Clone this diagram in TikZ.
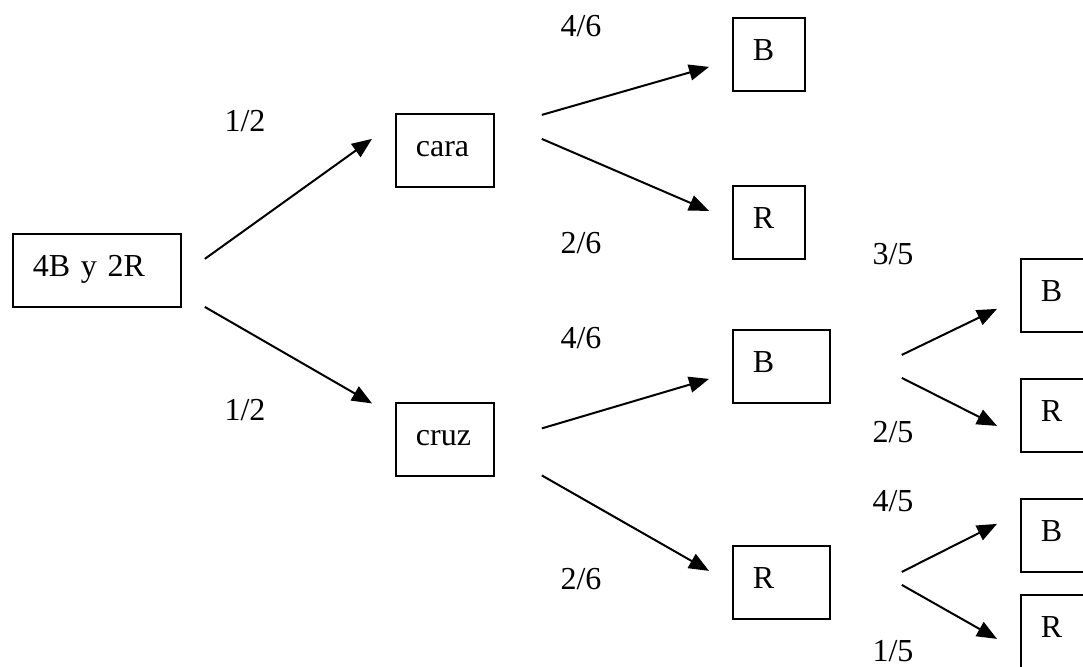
\documentclass[tikz,border=0pt]{standalone}
\usepackage{fontspec}
\setmainfont{Liberation Serif}
\usetikzlibrary{arrows.meta}
\tikzset{
  box/.style={draw=black, line width=1.8pt, anchor=north west, align=left,
    minimum height=73pt, inner xsep=20pt, text height=22pt, text depth=10pt,
    font=\fontsize{32}{38}\selectfont},
  prob/.style={font=\fontsize{32}{38}\selectfont},
  arr/.style={line width=2pt, -{Triangle[length=20pt,width=16pt]}}
}
\begin{document}
\begin{tikzpicture}[x=1pt,y=-1pt]
   \useasboundingbox (0,0) rectangle (1083,666);
   \clip (0,0) rectangle (1083,666);
   % boxes
   \node[box,text width=128pt] (root) at (12,233) {4B y 2R};
   \node[box,text width=58pt]  (cara) at (395,113) {cara};
   \node[box,text width=58pt]  (cruz) at (395,402) {cruz};
   \node[box,text width=32pt]  (bA) at (732,17)  {B};
   \node[box,text width=32pt]  (rA) at (732,185) {R};
   \node[box,text width=57pt]  (bB) at (732,329) {B};
   \node[box,text width=57pt]  (rB) at (732,545) {R};
   \node[box,text width=32pt]  (bC) at (1020,258) {B};
   \node[box,text width=32pt]  (rC) at (1020,378) {R};
   \node[box,text width=32pt]  (bD) at (1020,498) {B};
   \node[box,text width=32pt]  (rD) at (1020,594) {R};
   % probabilities
   \foreach \n/\x/\y/\p/\q in {pa/245/121/1/2, pb/245/410/1/2,
      pc/581/26/4/6, pd/581/243/2/6, pe/581/338/4/6, pf/581/579/2/6,
      pg/893/254/3/5, ph/893/432/2/5, pi/893/501/4/5, pj/893/651/1/5} {
    \node[prob] (\n) at (\x,\y) {\p/\q};
   }
   % arrows
   \draw[arr] ([shift={(23,-11.5)}]root.east) -- ([shift={(-23,-11.5)}]cara.west);
   \draw[arr] ([shift={(23,36.5)}]root.east) -- ([shift={(-23,-36)}]cruz.west);
   \draw[arr] ([shift={(47,-35.5)}]cara.east) -- ([shift={(-23,12.5)}]bA.west);
   \draw[arr] ([shift={(47,-11.5)}]cara.east) -- ([shift={(-23,-11.5)}]rA.west);
   \draw[arr] ([shift={(47,-11)}]cruz.east) -- ([shift={(-23,12.5)}]bB.west);
   \draw[arr] ([shift={(47,36)}]cruz.east) -- ([shift={(-23,-11.5)}]rB.west);
   \draw[arr] ([shift={(71,-11.5)}]bB.east) -- ([shift={(-23,13.5)}]bC.west);
   \draw[arr] ([shift={(71,11.5)}]bB.east) -- ([shift={(-23,10.5)}]rC.west);
   \draw[arr] ([shift={(71,-10.5)}]rB.east) -- ([shift={(-23,-11.5)}]bD.west);
   \draw[arr] ([shift={(71,2.5)}]rB.east) -- ([shift={(-23,7.5)}]rD.west);
\end{tikzpicture}
\end{document}
